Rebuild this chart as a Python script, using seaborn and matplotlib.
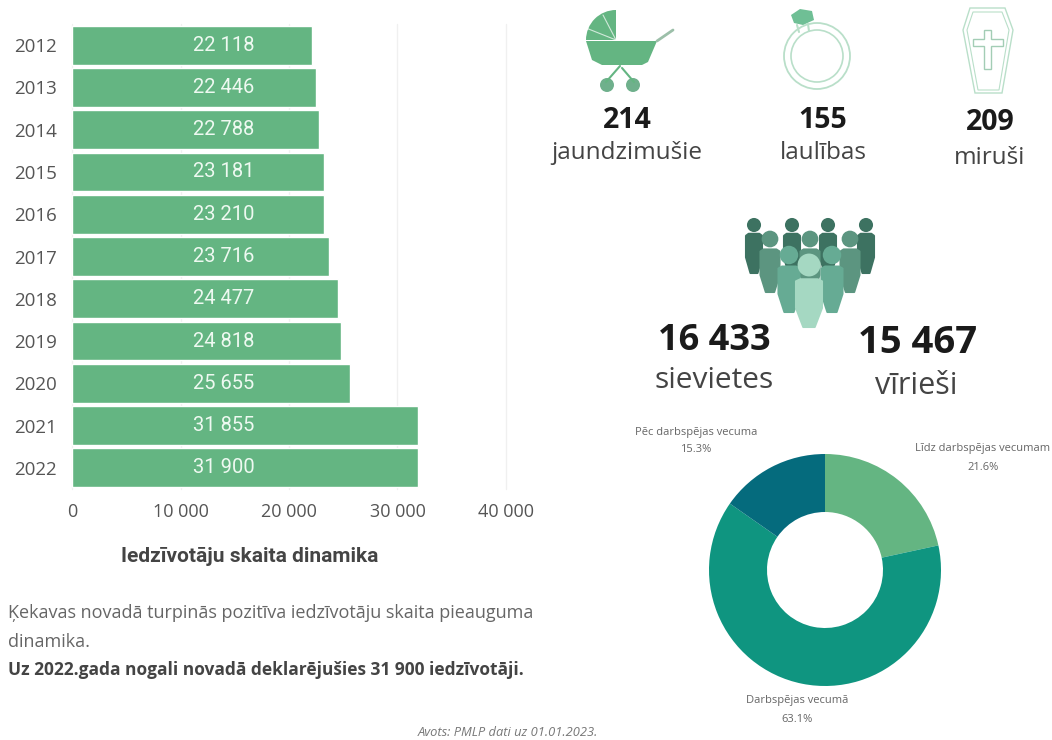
import matplotlib
matplotlib.use('Agg')
import matplotlib.pyplot as plt
import matplotlib.patches as mpatches
import pandas as pd
import seaborn as sns

# Data
years = ['2012', '2013', '2014', '2015', '2016', '2017', '2018', '2019', '2020', '2021', '2022']
residents = [22118, 22446, 22788, 23181, 23210, 23716, 24477, 24818, 25655, 31855, 31900]
x_ticks = [0, 10000, 20000, 30000, 40000]

age_groups = ['Līdz darbspējas vecumam', 'Darbspējas vecumā', 'Pēc darbspējas vecuma']
age_shares = [21.6, 63.1, 15.3]

stat_numbers = ['214', '155', '209']
stat_labels = ['jaundzimušie', 'laulības', 'miruši']

W, H = 1052, 740
GREEN = '#64b582'
TEAL = '#0f9580'
DARK = '#056b7d'
PALE = '#b9dfc9'
TXT = '#555555'


def spaced(num):
    return f'{num:,}'.replace(',', ' ')


sns.set_style('white')
plt.rcParams['font.family'] = ['Open Sans', 'DejaVu Sans']

fig = plt.figure(figsize=(W / 100, H / 100), dpi=100)

# Bars
ax = fig.add_axes([72 / W, 1 - 489 / H, 434 / W, 465 / H])
df = pd.DataFrame({'year': years, 'residents': residents})
sns.barplot(data=df, x='residents', y='year', color=GREEN, saturation=1, width=0.92, ax=ax, zorder=3)
ax.set_xlim(0, 40000)
ax.set_xticks(x_ticks)
ax.set_xticklabels([spaced(v) for v in x_ticks])
ax.set_xlabel('')
ax.set_ylabel('')
ax.grid(axis='x', color='#f0f0f0', lw=1, zorder=0, clip_on=False)
ax.tick_params(axis='x', length=0, labelsize=13, labelcolor=TXT, pad=10)
ax.tick_params(axis='y', length=0, labelsize=13.5, labelcolor=TXT, pad=11)
sns.despine(ax=ax, left=True, bottom=True, top=True, right=True)
for i, val in enumerate(residents):
    ax.text(14000, i, spaced(val), color='#eef9f1', ha='center', va='center', fontsize=14.5,
            family=['Roboto', 'DejaVu Sans'], zorder=4)

# Donut
ax2 = fig.add_axes([709 / W, 1 - 686 / H, 232 / W, 232 / H])
ax2.pie(age_shares, colors=[GREEN, TEAL, DARK], startangle=90, counterclock=False, radius=1,
        wedgeprops={'width': 0.5, 'linewidth': 0})
ax2.set_xlim(-1, 1)
ax2.set_ylim(-1, 1)

# Everything else is placed in pixel coordinates
ov = fig.add_axes([0, 0, 1, 1], zorder=-1)
ov.set_xlim(0, W)
ov.set_ylim(H, 0)
ov.axis('off')

label_pos = [(983, 449), (797, 701), (696, 432)]
for name, share, (lx, ly) in zip(age_groups, age_shares, label_pos):
    ov.text(lx, ly, name, fontsize=8, color='#666666', ha='center', va='center')
    ov.text(lx, ly + 18, f'{share}%', fontsize=8, color='#666666', ha='center', va='center')

stat_x = [627, 823, 990]
stat_y = [121, 121, 122]
label_y = [153, 153, 158]
for num, lab, sx, sy, ly in zip(stat_numbers, stat_labels, stat_x, stat_y, label_y):
    ov.text(sx, sy, num, fontsize=20.5, fontweight='bold', color='#1a1a1a', ha='center', va='center')
    ov.text(sx, ly, lab, fontsize=17.5, color='#444444', ha='center', va='center')

ov.text(714, 341, '16 433', fontsize=26, fontweight='bold', color='#1a1a1a', ha='center', va='center')
ov.text(918, 343, '15 467', fontsize=27.5, fontweight='bold', color='#1a1a1a', ha='center', va='center')
ov.text(714, 380, 'sievietes', fontsize=21.5, color='#444444', ha='center', va='center')
ov.text(916, 386, 'vīrieši', fontsize=22, color='#444444', ha='center', va='center')

ov.text(250, 557, 'Iedzīvotāju skaita dinamika', fontsize=15, fontweight='bold', color='#444444',
        ha='center', va='center', family=['Roboto', 'DejaVu Sans'])
ov.text(8, 613, 'Ķekavas novadā turpinās pozitīva iedzīvotāju skaita pieauguma', fontsize=13, color='#666666', va='center')
ov.text(8, 642, 'dinamika.', fontsize=13, color='#666666', va='center')
ov.text(8, 670, 'Uz 2022.gada nogali novadā deklarējušies 31 900 iedzīvotāji.', fontsize=12.5, fontweight='bold',
        color='#444444', va='center')
ov.text(508, 732, 'Avots: PMLP dati uz 01.01.2023.', fontsize=9.3, style='italic', color='#777777', ha='center', va='center')

# Pram icon
ov.add_patch(mpatches.Wedge((616, 40), 30, 180, 270, facecolor=GREEN, edgecolor='none'))
ov.add_patch(mpatches.Polygon([(586, 41), (657, 41), (648, 62), (642, 65), (602, 65), (592, 60)],
                              closed=True, facecolor=GREEN, edgecolor='none'))
ov.plot([657, 673], [41, 30], color='#9cbfa9', lw=2)
ov.plot([620, 606], [66, 82], color=GREEN, lw=1.5)
ov.plot([622, 634], [68, 82], color=GREEN, lw=1.5)
ov.plot([586, 616], [28, 40], color='white', lw=0.8, alpha=0.7)
ov.plot([603, 616], [15, 40], color='white', lw=0.8, alpha=0.7)
ov.add_patch(mpatches.Circle((607, 85), 7, facecolor='#6fb08c', edgecolor='none'))
ov.add_patch(mpatches.Circle((633, 85), 7, facecolor='#6fb08c', edgecolor='none'))

# Ring icon
ov.add_patch(mpatches.Circle((817, 56), 33, facecolor='none', edgecolor=PALE, lw=1.3))
ov.add_patch(mpatches.Circle((817, 56), 26, facecolor='none', edgecolor=PALE, lw=1.2))
ov.add_patch(mpatches.Polygon([(791, 15), (800, 9), (812, 11), (814, 20), (803, 25), (794, 23)],
                              closed=True, facecolor='#6fbf95', edgecolor='none'))
ov.plot([797, 799], [25, 32], color=PALE, lw=1.5)
ov.plot([808, 809], [24, 31], color=PALE, lw=1.5)

# Coffin icon
ov.add_patch(mpatches.Polygon([(970, 8), (1005, 8), (1013, 30), (1002, 93), (975, 93), (963, 30)],
                              closed=True, facecolor='none', edgecolor=PALE, lw=1.0))
ov.add_patch(mpatches.Polygon([(973, 12), (1002, 12), (1009, 30), (999, 90), (978, 90), (967, 30)],
                              closed=True, facecolor='none', edgecolor=PALE, lw=0.8))
ov.add_patch(mpatches.Polygon([(984, 30), (991, 30), (991, 39), (1003, 39), (1003, 46), (991, 46), (991, 69),
                               (984, 69), (984, 46), (973, 46), (973, 39), (984, 39)],
                              closed=True, facecolor='none', edgecolor='#a3cdb5', lw=1.0))


def person(cx, head_y, bottom, width, color, z):
    ov.add_patch(mpatches.Circle((cx, head_y), width * 0.44, facecolor=color, edgecolor='none', zorder=z))
    top = head_y + width * 0.55
    mid = top + (bottom - top) * 0.6
    ov.add_patch(mpatches.Polygon([(cx - width / 2, top + 2), (cx - width / 3, top), (cx + width / 3, top),
                                   (cx + width / 2, top + 2), (cx + width / 2, mid),
                                   (cx + width * 0.22, bottom), (cx - width * 0.22, bottom), (cx - width / 2, mid)],
                                  closed=True, facecolor=color, edgecolor=color, lw=1.5, joinstyle='round', zorder=z))


# People icon
for px in [754, 792, 828, 866]:
    person(px, 225, 273, 16, '#3d7261', 2)
for px in [770, 810, 850]:
    person(px, 239, 292, 19, '#5c9580', 3)
for px in [789, 832]:
    person(px, 255, 312, 21, '#66ab94', 4)
person(809, 265, 327, 26, '#a5d8c2', 5)

fig.savefig('out.png', dpi=100, facecolor='white')
